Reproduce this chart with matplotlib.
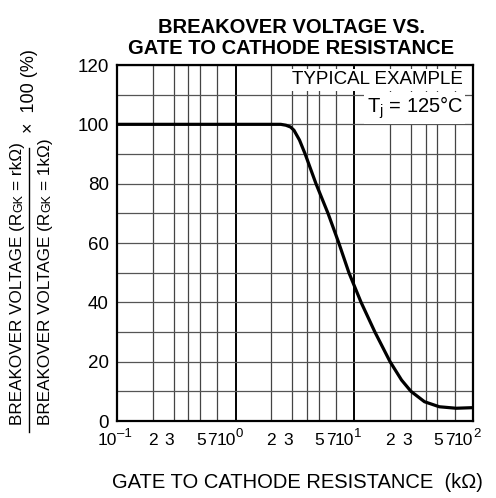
import matplotlib
matplotlib.use('Agg')
import matplotlib.pyplot as plt
from matplotlib.lines import Line2D
import matplotlib.transforms as mtransforms

# ── data ──
r_gk = [0.1, 2.0, 2.4, 2.65, 2.9, 3.1, 3.45, 3.85, 4.75, 6.0, 7.4,
        9.0, 11.4, 14.9, 20, 25, 30, 39, 52, 72, 100]
bv_ratio = [100, 100, 100, 99.7, 99.1, 98.0, 94.7, 90, 80, 70, 60,
            50, 40, 30, 20, 13.8, 10, 6.5, 4.8, 4.3, 4.5]

decades = [0.1, 1, 10, 100]
decade_exp = ['\u20131', '0', '1', '2']
minor_mult = [2, 3, 4, 5, 7]
minor_labeled = [2, 3, 5, 7]
minor_nudge = {2: 0, 3: -4, 5: 1, 7: -5}   # px, labels hand-placed in the original
y_major = [0, 20, 40, 60, 80, 100, 120]
y_minor = [10, 30, 50, 70, 90, 110]

FONT = 'Liberation Sans'
plt.rcParams.update({
    'font.family': FONT,
    'mathtext.fontset': 'custom',
    'mathtext.rm': FONT,
    'mathtext.it': FONT,
})

W, H = 496, 498
fig = plt.figure(figsize=(W / 100, H / 100), dpi=100)
ax = fig.add_axes([117 / W, 1 - 421 / H, 356 / W, 356 / H])

ax.set_xscale('log')
ax.set_xlim(0.1, 100)
ax.set_ylim(0, 120)

# grid
ax.set_xticks(decades)
ax.set_xticks([m * d for d in decades[:-1] for m in minor_mult], minor=True)
ax.set_yticks(y_major)
ax.set_yticks(y_minor, minor=True)
ax.xaxis.grid(True, which='major', color='black', lw=1.4)
ax.xaxis.grid(True, which='minor', color='#444444', lw=0.9)
ax.yaxis.grid(True, which='both', color='#555555', lw=0.9)
ax.set_axisbelow(True)
ax.tick_params(which='both', length=0)
ax.tick_params(axis='y', labelsize=13.5, pad=6)
ax.set_xticklabels([])
ax.set_xticklabels([], minor=True)
for s in ax.spines.values():
    s.set_linewidth(1.6)
    s.set_color('black')

# curve
ax.plot(r_gk, bv_ratio, color='black', lw=2.3, solid_capstyle='round',
        solid_joinstyle='round', zorder=3)

# x tick labels (10^n with superscript, plus 2 3 5 7)
trans = mtransforms.blended_transform_factory(ax.transData, ax.transAxes)
ly = -0.055
for d, e in zip(decades, decade_exp):
    ax.text(d, ly, '10', transform=trans, ha='right', va='center', fontsize=12.5)
    ax.text(d, ly + 0.018, e, transform=trans, ha='left', va='center', fontsize=9.5)
for d in decades[:-1]:
    for m in minor_labeled:
        tr = trans + mtransforms.ScaledTranslation(minor_nudge[m] / 100, 0,
                                                   fig.dpi_scale_trans)
        ax.text(m * d, ly, str(m), transform=tr, ha='center', va='center',
                fontsize=12.5)

# annotations
box = dict(boxstyle='square,pad=0.12', facecolor='white', edgecolor='none')
ax.text(0.972, 0.958, 'TYPICAL EXAMPLE', transform=ax.transAxes, ha='right',
        va='center', fontsize=13.5, bbox=box, zorder=4)
ax.text(0.972, 0.879, r'T$_\mathregular{j}$ = 125°C', transform=ax.transAxes,
        ha='right', va='center', fontsize=14.5, bbox=box, zorder=4)

# titles / labels
fig.text(291 / W, 1 - 38 / H, 'BREAKOVER VOLTAGE VS.\nGATE TO CATHODE RESISTANCE',
         ha='center', va='center', fontsize=14.5, fontweight='bold',
         linespacing=1.1)
fig.text(297 / W, 1 - 482 / H, 'GATE TO CATHODE RESISTANCE  (k\u03a9)',
         ha='center', va='center', fontsize=14.5)

# y label: fraction written vertically, built piece by piece
renderer = fig.canvas.get_renderer()


def vtext(x_px, y_px, pieces):
    y = y_px
    for s, size, gap in pieces:
        y -= gap
        t = fig.text(x_px / W, 1 - y / H, s, rotation=90, rotation_mode='anchor',
                     ha='left', va='baseline', fontsize=size)
        ext = t.get_window_extent(renderer)
        y -= ext.height


vtext(22, 425, [('BREAKOVER VOLTAGE (R', 12.3, 0), ('GK', 9, 0.5),
                ('= rk\u03a9)', 12.3, 4)])
vtext(50, 425, [('BREAKOVER VOLTAGE (R', 12.3, 0), ('GK', 9, 0.5),
                ('= 1k\u03a9)', 12.3, 4)])
fig.add_artist(Line2D([29 / W, 29 / W], [1 - 148 / H, 1 - 432 / H],
                      transform=fig.transFigure, color='black', lw=1.0))
fig.text(30 / W, 1 - 133 / H, '\u00d7  100 (%)', rotation=90,
         rotation_mode='anchor', ha='left', va='center', fontsize=13)

fig.savefig('out.png', dpi=100, facecolor='white')
